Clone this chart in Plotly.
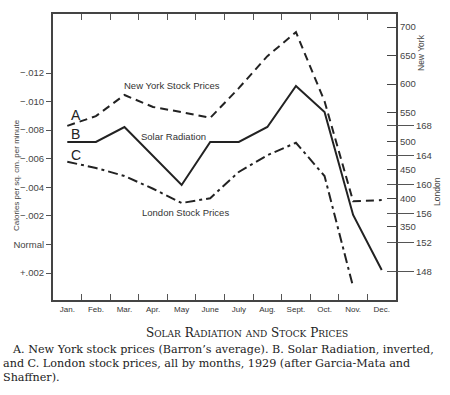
import plotly.graph_objects as go

months = ["Jan.", "Feb.", "Mar.", "Apr.", "May", "June", "July", "Aug.", "Sept.", "Oct.", "Nov.", "Dec."]
new_york = [527, 544, 581, 560, 551, 541, 593, 649, 691, 570, 395, 397]
solar = [-0.00717, -0.00717, -0.00822, -0.00619, -0.00416, -0.00717, -0.00717, -0.00822,
         -0.01109, -0.00927, -0.00206, 0.00179]
london = [163.1, 162.25, 161.15, 159.4, 157.45, 158.1, 161.7, 164.0, 165.7, 161.15, 145.95, None]

cal_ticks = [-0.012, -0.010, -0.008, -0.006, -0.004, -0.002, 0.0, 0.002]
cal_labels = ["\u2212.012", "\u2212.010", "\u2212.008", "\u2212.006", "\u2212.004", "\u2212.002", "Normal", "+.002"]
ny_ticks = [350, 400, 450, 500, 550, 600, 650, 700]
ldn_ticks = [148, 152, 156, 160, 164, 168]

INK = "#222222"
SANS = "Liberation Sans, Arial, sans-serif"
SERIF = "DejaVu Serif, Liberation Serif, serif"

fig = go.Figure()
fig.add_trace(go.Scatter(x=months, y=new_york, yaxis="y2", mode="lines",
                         line=dict(color=INK, width=2, dash="8px,5px"), showlegend=False))
fig.add_trace(go.Scatter(x=months, y=solar, yaxis="y", mode="lines",
                         line=dict(color=INK, width=2), showlegend=False))
fig.add_trace(go.Scatter(x=months, y=london, yaxis="y3", mode="lines",
                         line=dict(color=INK, width=2, dash="10px,4px,3px,4px"), showlegend=False))
fig.add_trace(go.Scatter(x=[months[0]], y=[None], yaxis="y4", mode="lines", showlegend=False))

axis_font = dict(family=SANS, size=9.5, color="#444")

fig.update_layout(
    width=450, height=395,
    margin=dict(l=53, r=54, t=14, b=95),
    paper_bgcolor="white", plot_bgcolor="white",
    xaxis=dict(type="category", categoryorder="array", categoryarray=months,
               range=[-0.5, 11.5], tickson="boundaries", ticks="inside", ticklen=6,
               tickcolor="#555", showline=True, linecolor="#444", linewidth=2, mirror="ticks",
               showgrid=False, zeroline=False, tickfont=dict(family=SANS, size=8, color="#333")),
    yaxis=dict(range=[0.00389, -0.01613], tickvals=cal_ticks, ticktext=cal_labels,
               ticks="outside", ticklen=5, tickcolor="#555", showline=True, linecolor="#444",
               linewidth=2, showgrid=False, zeroline=False, tickfont=axis_font),
    yaxis2=dict(range=[222.2, 722.75], tickvals=ny_ticks, overlaying="y", side="right", anchor="x",
                ticks="inside", ticklen=9, tickcolor="#444", showline=True, linecolor="#444",
                linewidth=2, showgrid=False, zeroline=False, tickfont=axis_font),
    yaxis3=dict(range=[144.16, 183.34], tickvals=ldn_ticks, overlaying="y", side="right", anchor="x",
                ticks="outside", ticklen=17, tickcolor="#555", showline=False,
                showgrid=False, zeroline=False, tickfont=axis_font),
    yaxis4=dict(range=[144.16, 183.34], tickvals=ldn_ticks, overlaying="y", side="right", anchor="x",
                ticks="inside", ticklen=9, tickcolor="#555", showline=False, showticklabels=False,
                showgrid=False, zeroline=False),
)

def px_x(px):
    return (px - 53) / 343.0

def px_y(py):
    return (300 - py) / 286.0

lab_font = dict(family=SANS, size=9.5, color="#333")
ann = []
ann.append(dict(x=3.66, y=598, xref="x", yref="y2", text="New York Stock Prices", showarrow=False, font=lab_font))
ann.append(dict(x=3.73, y=-0.00759, xref="x", yref="y", text="Solar Radiation", showarrow=False, font=lab_font))
ann.append(dict(x=4.12, y=156.1, xref="x", yref="y3", text="London Stock Prices", showarrow=False, font=lab_font))
ann.append(dict(x=0.3, y=546, xref="x", yref="y2", text="A", showarrow=False,
                font=dict(family=SANS, size=14, color=INK)))
ann.append(dict(x=0.3, y=-0.00773, xref="x", yref="y", text="B", showarrow=False,
                font=dict(family=SANS, size=14, color=INK)))
ann.append(dict(x=0.3, y=164.0, xref="x", yref="y3", text="C", showarrow=False,
                font=dict(family=SANS, size=14, color=INK)))
ann.append(dict(x=px_x(16), y=px_y(175), xref="paper", yref="paper", text="Calories per sq. cm. per minute",
                textangle=-90, showarrow=False, xanchor="center", yanchor="middle",
                font=dict(family=SANS, size=8, color="#444")))
ann.append(dict(x=px_x(421), y=px_y(53), xref="paper", yref="paper", text="New York",
                textangle=-90, showarrow=False, xanchor="center", yanchor="middle",
                font=dict(family=SANS, size=8.5, color="#444")))
ann.append(dict(x=px_x(437), y=px_y(192), xref="paper", yref="paper", text="London",
                textangle=-90, showarrow=False, xanchor="center", yanchor="middle",
                font=dict(family=SANS, size=8.5, color="#444")))

def sc(word):
    return ("<span style='font-size:12px'>" + word[0] + "</span>"
            + "<span style='font-size:9px'>" + word[1:] + "</span>")

title_words = ["SOLAR", "RADIATION", "AND", "STOCK", "PRICES"]
title_html = " ".join(sc(w) if w != "AND" else "<span style='font-size:9px'>AND</span>" for w in title_words)
ann.append(dict(x=px_x(247), y=px_y(333), xref="paper", yref="paper", text=title_html, showarrow=False,
                xanchor="center", yanchor="middle", font=dict(family=SERIF, size=12, color="#222")))
caption_lines = [
    "A. New York stock prices (Barron\u2019s average). B. Solar Radiation, inverted,",
    "and C. London stock prices, all by months, 1929 (after Garcia-Mata and",
    "Shaffner).",
]
caption_x = [10, 1, 1]
for i, line in enumerate(caption_lines):
    ann.append(dict(x=px_x(caption_x[i]), y=px_y(349 + 14 * i), xref="paper", yref="paper", text=line,
                    showarrow=False, xanchor="left", yanchor="middle",
                    font=dict(family=SERIF, size=11.2, color="#222")))

fig.update_layout(annotations=ann)
fig.write_html("out.html", post_script="document.body.style.margin='0';",
               config={"displayModeBar": False})
